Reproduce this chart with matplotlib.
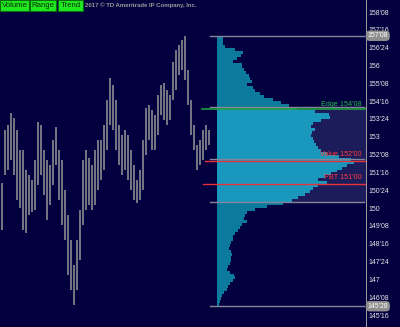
import matplotlib

matplotlib.use("Agg")
import matplotlib.pyplot as plt
import matplotlib.transforms as mtransforms
from matplotlib.patches import Rectangle
from matplotlib.lines import Line2D

# price bars (high / low), one per slot from left to right
BAR_HIGH = [
    151.05, 153.28, 153.49, 154.00, 153.79, 153.28, 152.44, 152.44, 151.60, 151.39,
    151.18, 152.02, 153.62, 153.49, 152.44, 152.02, 151.81, 152.86, 153.41, 152.44,
    152.02, 150.76, 149.70, 148.65, 147.60, 148.65, 149.92, 152.02, 152.44, 152.11,
    151.81, 152.44, 152.86, 152.86, 153.49, 154.55, 155.47, 155.18, 154.55, 153.49,
    153.07, 153.28, 153.07, 152.44, 151.81, 151.18, 151.60, 152.86, 154.21, 154.34,
    154.13, 153.91, 154.76, 155.18, 155.26, 154.97, 154.76, 156.15, 156.65, 156.86,
    157.07, 157.24, 155.81, 154.55, 153.49, 152.65, 152.86, 153.28, 153.49, 153.28,
]
BAR_LOW = [
    149.07, 151.39, 151.60, 152.02, 151.39, 150.34, 150.00, 149.07, 148.95, 149.70,
    149.83, 149.92, 150.97, 151.39, 150.55, 149.50, 150.13, 150.97, 151.81, 150.34,
    149.29, 148.65, 147.18, 146.55, 145.92, 146.55, 147.81, 149.29, 149.92, 150.13,
    149.92, 150.13, 150.76, 151.18, 151.60, 152.44, 153.49, 153.28, 152.44, 151.81,
    151.39, 151.60, 151.18, 150.76, 150.34, 150.21, 150.34, 150.76, 152.23, 152.86,
    152.44, 152.44, 153.07, 153.91, 153.70, 153.49, 153.70, 154.55, 154.97, 155.60,
    155.81, 155.39, 154.34, 153.07, 152.44, 151.60, 151.81, 152.02, 152.44, 152.65,
]

# volume profile: rows of 4/32 starting at 157'08 going down
PROFILE_TOP = 157.25
PROFILE_STEP = 0.125
PROFILE_VOLUME = [
    6, 6, 6, 8, 18, 26, 24, 20, 16, 25,
    25, 27, 29, 32, 33, 35, 30, 36, 38, 43,
    47, 56, 64, 72, 80, 98, 112, 113, 104, 96,
    94, 98, 95, 94, 96, 97, 99, 101, 104, 110,
    122, 134, 137, 130, 125, 120, 114, 108, 101, 110,
    101, 96, 93, 88, 81, 75, 66, 50, 38, 30,
    28, 27, 30, 25, 23, 21, 18, 16, 16, 14,
    13, 12, 14, 15, 14, 14, 13, 11, 10, 13,
    17, 18, 16, 13, 11, 10, 7, 5, 4, 3,
    2,
]

VALUE_AREA = (150.25, 154.15)
GRAY_LEVELS = [157.25, 154.25, 152.07, 150.25, 145.875]
EDGE_LEVEL = 154.15
VALUE_LEVEL = 152.0
PBT_LEVEL = 151.0

TICK_PRICES = [158.25, 157.5, 156.75, 156.0, 155.25, 154.5, 153.75, 153.0, 152.25,
               151.5, 150.75, 150.0, 149.25, 148.5, 147.75, 147.0, 146.25, 145.5]
TICK_LABELS = ["158'08", "157'16", "156'24", "156", "155'08", "154'16", "153'24", "153",
               "152'08", "151'16", "150'24", "150", "149'08", "148'16", "147'24", "147",
               "146'08", "145'16"]
MARKED_PRICES = [157.25, 145.875]
MARKED_LABELS = ["157'08", "145'28"]

BUTTONS = ["Volume", "Range", "Trend"]
COPYRIGHT = "2017 \u00a9 TD Ameritrade IP Company, Inc."

BG = "#03003f"
BAR_COLOR = "#84848c"
TEAL = "#0c7a9d"
TEAL_VA = "#1a97bd"
VA_SHADE = "#1d1c5a"
GRAY_LINE = "#85859a"
GREEN = "#1f9e3d"
RED = "#e5333a"

W, H = 400, 327
AXIS_X = 366
PROFILE_X = 217

plt.rcParams["font.family"] = ["Liberation Sans", "DejaVu Sans"]

fig = plt.figure(figsize=(W / 100, H / 100), dpi=100)
fig.patch.set_facecolor(BG)

# profile axes (underneath)
axp = fig.add_axes([PROFILE_X / W, 0, (AXIS_X - PROFILE_X) / W, 1])
axp.set_zorder(1)
axp.set_facecolor(BG)
axp.set_xlim(0, AXIS_X - PROFILE_X)
axp.set_ylim(145.0, 158.755)
axp.axis("off")
axp.axhspan(*VALUE_AREA, color=VA_SHADE, lw=0, zorder=0)
tops = [PROFILE_TOP - i * PROFILE_STEP for i in range(len(PROFILE_VOLUME))]
colors = [TEAL_VA if VALUE_AREA[0] < p <= VALUE_AREA[1] + 0.1 else TEAL for p in tops]
axp.barh(tops, PROFILE_VOLUME, height=-PROFILE_STEP, align="edge",
         color=colors, lw=0, zorder=2)

# price axes (on top, transparent)
ax = fig.add_axes([0, 0, AXIS_X / W, 1])
ax.set_zorder(2)
ax.patch.set_alpha(0)
ax.set_ylim(145.0, 158.755)
ax.set_xlim(-0.5, (AXIS_X - 1.5) / 3)
idx = range(len(BAR_HIGH))
ax.vlines(idx, BAR_LOW, BAR_HIGH, color=BAR_COLOR, lw=1.25)

for p in GRAY_LEVELS:
    ax.axhline(p, xmin=210 / AXIS_X, xmax=364 / AXIS_X, color=GRAY_LINE, lw=1.0)
ax.axhline(EDGE_LEVEL, xmin=202 / AXIS_X, xmax=1, color=GREEN, lw=1.2)
ax.axhline(VALUE_LEVEL, xmin=205 / AXIS_X, xmax=1, color=RED, lw=1.0)
ax.axhline(PBT_LEVEL, xmin=203 / AXIS_X, xmax=1, color=RED, lw=1.0)

trans = mtransforms.blended_transform_factory(ax.transAxes, ax.transData)
lab_kw = dict(transform=trans, ha="right", va="center", fontsize=5.2)
ax.text(362 / AXIS_X, EDGE_LEVEL + 0.23, "Edge 154'08", color="#22b84a", **lab_kw)
ax.text(362 / AXIS_X, VALUE_LEVEL + 0.27, "Value 152'00", color="#ff3b3b", **lab_kw)
ax.text(362 / AXIS_X, PBT_LEVEL + 0.27, "PBT 151'00", color="#ff3b3b", **lab_kw)

for side in ["top", "bottom", "left", "right"]:
    ax.spines[side].set_visible(False)
ax.set_xticks([])
ax.yaxis.tick_right()
ax.set_yticks(TICK_PRICES, TICK_LABELS)
ax.tick_params(axis="y", length=0, pad=1.5, labelsize=5, labelcolor="#e6e6e6")

for p, lab in zip(MARKED_PRICES, MARKED_LABELS):
    ax.text(1.004, p, lab, transform=trans, ha="left", va="center", fontsize=5,
            color="white", zorder=5,
            bbox=dict(boxstyle="round,pad=0.25,rounding_size=0.6", fc="#8e8e8e", ec="none"))

fig.add_artist(Line2D([AXIS_X / W] * 2, [0, 1], color="#a0a0a0", lw=0.7))

# header buttons
bx = [0, 30, 58]
bw = [29, 26, 25]
for x0, w, name in zip(bx, bw, BUTTONS):
    fig.add_artist(Rectangle((x0 / W, 1 - 11 / H), w / W, 11 / H, fc="#1fe81f",
                             ec="#0c6e0c", lw=0.8, transform=fig.transFigure))
    fig.text((x0 + w / 2) / W, 1 - 5.5 / H, name, ha="center", va="center",
             fontsize=5.6, color="#062806")
fig.text(85 / W, 1 - 5.5 / H, COPYRIGHT, ha="left", va="center", fontsize=4.3,
         fontweight="bold", color="#9a9a9a")

fig.savefig("out.png", dpi=100, facecolor=BG)
